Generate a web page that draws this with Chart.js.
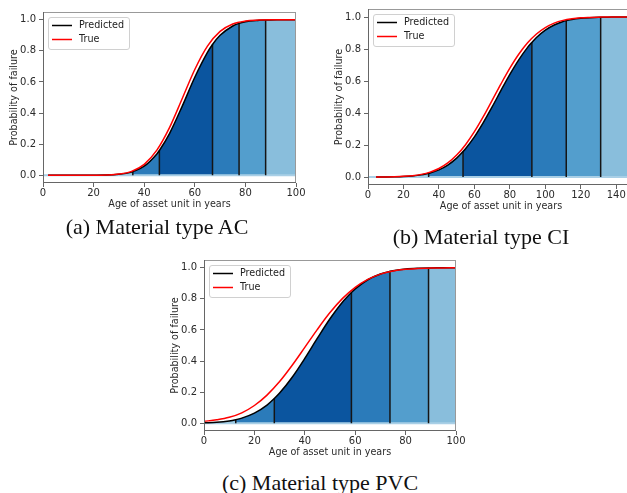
<!DOCTYPE html>
<html>
<head>
<meta charset="utf-8">
<script src="https://cdn.jsdelivr.net/npm/chart.js@4.4.0/dist/chart.umd.min.js"></script>
<style>
  html, body { margin: 0; padding: 0; background: #fff; }
  body { width: 627px; height: 493px; position: relative; overflow: hidden; }
  canvas { position: absolute; }
  .caption {
    position: absolute;
    font-family: 'Liberation Serif', 'Times New Roman', serif;
    font-size: 22px;
    line-height: 22px;
    color: #111;
    white-space: nowrap;
    transform: translateX(-50%);
  }
</style>
</head>
<body>
<canvas id="chartAC"></canvas>
<canvas id="chartCI"></canvas>
<canvas id="chartPVC"></canvas>
<div class="caption" style="left:157px; top:216px;">(a) Material type AC</div>
<div class="caption" style="left:481px; top:226px;">(b) Material type CI</div>
<div class="caption" style="left:320px; top:472px;">(c) Material type PVC</div>

<script>
// ---- data ----
const yTicks = [0, 0.2, 0.4, 0.6, 0.8, 1.0];
const yRange = [-0.05, 1.05];

// (a) AC
const agesAC = [2, 5, 10, 15, 20, 25, 30, 35, 40, 45, 50, 55, 60, 65, 70, 75, 80, 85, 90, 95, 100];
const predictedAC = [0, 0, 0, 0, 0.0002, 0.001, 0.006, 0.020, 0.058, 0.137, 0.268, 0.443, 0.630, 0.790, 0.900, 0.960, 0.987, 0.996, 0.999, 1.0, 1.0];
const trueAC = [0, 0, 0, 0.0001, 0.0003, 0.0017, 0.0072, 0.025, 0.070, 0.161, 0.306, 0.492, 0.680, 0.830, 0.925, 0.973, 0.992, 0.998, 1.0, 1.0, 1.0];
const cutsAC = [35.5, 46, 67, 77.5, 88];
const cutValsAC = [0.023, 0.159, 0.841, 0.977, 0.999];
const xTicksAC = [0, 20, 40, 60, 80, 100];

// (b) CI
const agesCI = [4.5, 10, 15, 20, 25, 30, 35, 40, 45, 50, 55, 60, 65, 70, 75, 80, 85, 90, 95, 100, 105, 110, 115, 120, 125, 130, 135, 140, 145, 150];
const predictedCI = [0.0002, 0.0006, 0.0014, 0.0031, 0.0067, 0.0133, 0.025, 0.0445, 0.0745, 0.118, 0.177, 0.251, 0.340, 0.438, 0.541, 0.641, 0.732, 0.810, 0.872, 0.918, 0.950, 0.972, 0.985, 0.992, 0.996, 0.998, 0.999, 1.0, 1.0, 1.0];
const trueCI = [0.0003, 0.0007, 0.0018, 0.004, 0.0083, 0.0164, 0.0304, 0.0532, 0.0879, 0.137, 0.202, 0.283, 0.377, 0.479, 0.582, 0.680, 0.767, 0.839, 0.894, 0.934, 0.962, 0.979, 0.989, 0.995, 0.9975, 0.999, 1.0, 1.0, 1.0, 1.0];
const cutsCI = [34.2, 53.6, 92.4, 111.8, 131.2];
const cutValsCI = [0.023, 0.159, 0.841, 0.977, 0.999];
const xTicksCI = [0, 20, 40, 60, 80, 100, 120, 140];

// (c) PVC
const agesPVC = [0, 5, 10, 15, 20, 25, 30, 35, 40, 45, 50, 55, 60, 65, 70, 75, 80, 85, 90, 95, 100];
const predictedPVC = [0.0024, 0.0063, 0.015, 0.033, 0.065, 0.117, 0.194, 0.296, 0.417, 0.547, 0.672, 0.780, 0.864, 0.923, 0.960, 0.981, 0.992, 0.997, 0.999, 1.0, 1.0];
const truePVC = [0.012, 0.022, 0.038, 0.067, 0.114, 0.181, 0.268, 0.373, 0.488, 0.604, 0.712, 0.803, 0.874, 0.925, 0.959, 0.979, 0.990, 0.996, 0.998, 0.999, 1.0];
const cutsPVC = [12.6, 27.9, 58.5, 73.8, 89.1];
const cutValsPVC = [0.023, 0.159, 0.841, 0.977, 0.999];
const xTicksPVC = [0, 20, 40, 60, 80, 100];

// seaborn "Blues" shades, one per band between the cuts
const bandColors = ['#89bedc', '#2b7bba', '#0b559f', '#2b7bba', '#539ecd', '#89bedc'];

Chart.defaults.font.family = "'DejaVu Sans', sans-serif";
Chart.defaults.font.size = 9.6;
Chart.defaults.color = '#2a2a2a';

const Y_AXIS_W = 42, X_AXIS_H = 32, PAD_TOP = 4, PAD_RIGHT = 14;

// frame (all four spines) + matplotlib-style legend box
const frameAndLegend = {
  id: 'frameAndLegend',
  afterDatasetsDraw(chart) {
    const { ctx, chartArea: a } = chart;
    ctx.save();
    ctx.lineWidth = 1;
    ctx.strokeStyle = '#999';
    ctx.beginPath();
    ctx.moveTo(a.left, a.top + 0.5); ctx.lineTo(a.right, a.top + 0.5);
    ctx.moveTo(a.right - 0.5, a.top); ctx.lineTo(a.right - 0.5, a.bottom);
    ctx.stroke();
    ctx.strokeStyle = '#666';
    ctx.beginPath();
    ctx.moveTo(a.left + 0.5, a.top); ctx.lineTo(a.left + 0.5, a.bottom);
    ctx.moveTo(a.left, a.bottom - 0.5); ctx.lineTo(a.right, a.bottom - 0.5);
    ctx.stroke();

    const items = chart.data.datasets.filter(d => d.label);
    const bx = a.left + 5, by = a.top + 5, bw = 81, bh = 32;
    ctx.beginPath();
    ctx.roundRect(bx + 0.5, by + 0.5, bw, bh, 2.5);
    ctx.fillStyle = 'rgba(255,255,255,0.8)';
    ctx.fill();
    ctx.strokeStyle = '#d0d0d0';
    ctx.stroke();
    ctx.font = "9.6px 'DejaVu Sans'";
    ctx.textBaseline = 'middle';
    items.forEach((d, i) => {
      const y = by + 8.5 + i * 14;
      ctx.strokeStyle = d.borderColor;
      ctx.lineWidth = 1.5;
      ctx.beginPath();
      ctx.moveTo(bx + 4, y); ctx.lineTo(bx + 24, y);
      ctx.stroke();
      ctx.fillStyle = '#222';
      ctx.fillText(d.label, bx + 31, y);
    });
    ctx.restore();
  }
};

function makePanel(id, area, ages, predicted, truth, cuts, cutVals, xTicks, xMax) {
  const canvas = document.getElementById(id);
  const w = (area.right - area.left) + Y_AXIS_W + PAD_RIGHT;
  const h = (area.bottom - area.top) + PAD_TOP + X_AXIS_H;
  canvas.width = w; canvas.height = h;
  canvas.style.left = (area.left - Y_AXIS_W) + 'px';
  canvas.style.top = (area.top - PAD_TOP) + 'px';

  const predPts = ages.map((x, i) => ({ x, y: predicted[i] }))
    .concat(cuts.map((x, i) => ({ x, y: cutVals[i] })))
    .sort((p, q) => p.x - q.x);
  const truePts = ages.map((x, i) => ({ x, y: truth[i] }));
  const edges = [ages[0], ...cuts, ages[ages.length - 1]];

  const line = (label, data, color, order) => ({
    label, data, order,
    borderColor: color, borderWidth: 1.5,
    pointRadius: 0, cubicInterpolationMode: 'monotone', fill: false
  });

  const datasets = [
    line('Predicted', predPts, '#000000', 1),
    line('True', truePts, '#ff0000', 0)
  ];
  cuts.forEach((x, i) => datasets.push({
    data: [{ x, y: 0 }, { x, y: cutVals[i] }], order: 2,
    borderColor: '#151515', borderWidth: 1.5, pointRadius: 0, fill: false
  }));
  datasets.push({
    data: [{ x: 0, y: 0 }, { x: xMax, y: 0 }], order: 3,
    borderColor: '#a9cfe6', borderWidth: 2, pointRadius: 0, fill: false
  });
  bandColors.forEach((c, i) => datasets.push({
    data: predPts.filter(p => p.x >= edges[i] && p.x <= edges[i + 1]),
    order: 4, fill: 'origin', backgroundColor: c,
    borderColor: 'rgba(0,0,0,0)', borderWidth: 0, pointRadius: 0,
    cubicInterpolationMode: 'monotone'
  }));

  new Chart(canvas, {
    type: 'line',
    data: { datasets },
    options: {
      responsive: false,
      animation: false,
      layout: { padding: { top: PAD_TOP, right: PAD_RIGHT, left: 0, bottom: 0 } },
      plugins: { legend: { display: false }, tooltip: { enabled: false } },
      scales: {
        x: {
          type: 'linear', min: 0, max: xMax,
          afterBuildTicks: s => { s.ticks = xTicks.map(v => ({ value: v })); },
          afterFit: s => { s.height = X_AXIS_H; },
          grid: { drawOnChartArea: false, drawTicks: true, tickLength: 4, color: '#666' },
          border: { display: false },
          ticks: { padding: 0, maxRotation: 0, font: { size: 10 }, callback: v => String(v) },
          title: { display: true, text: 'Age of asset unit in years', padding: { top: 0, bottom: 5 } }
        },
        y: {
          type: 'linear', min: yRange[0], max: yRange[1],
          afterBuildTicks: s => { s.ticks = yTicks.map(v => ({ value: v })); },
          afterFit: s => { s.width = Y_AXIS_W; },
          grid: { drawOnChartArea: false, drawTicks: true, tickLength: 4, color: '#666' },
          border: { display: false },
          ticks: { padding: 3, font: { size: 10 }, callback: v => v.toFixed(1) },
          title: { display: true, text: 'Probability of failure', padding: { top: 8, bottom: 0 } }
        }
      }
    },
    plugins: [frameAndLegend]
  });
}

makePanel('chartAC', { left: 43, top: 7, right: 296, bottom: 183 },
  agesAC, predictedAC, trueAC, cutsAC, cutValsAC, xTicksAC, 100);
makePanel('chartCI', { left: 368, top: 4, right: 634, bottom: 185 },
  agesCI, predictedCI, trueCI, cutsCI, cutValsCI, xTicksCI, 150);
makePanel('chartPVC', { left: 204, top: 255, right: 456, bottom: 431 },
  agesPVC, predictedPVC, truePVC, cutsPVC, cutValsPVC, xTicksPVC, 100);
</script>
</body>
</html>
